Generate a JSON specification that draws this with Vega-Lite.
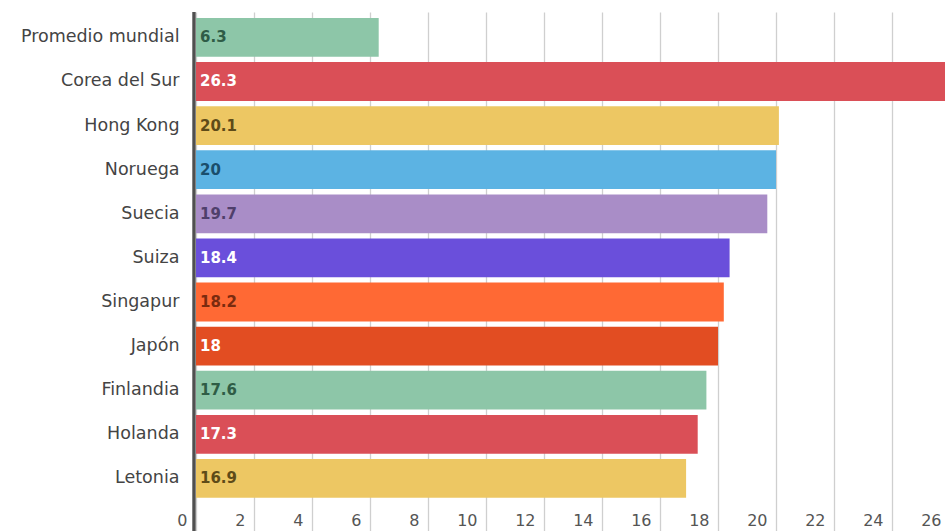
{
  "$schema": "https://vega.github.io/schema/vega-lite/v6.json",
  "autosize": {"type": "none"},
  "padding": {"left": 196, "top": 12, "right": 0, "bottom": 0},
  "width": 749,
  "height": 519,
  "background": "white",
  "data": {
    "values": [
      {"pais": "Promedio mundial", "valor": 6.3},
      {"pais": "Corea del Sur", "valor": 26.3},
      {"pais": "Hong Kong", "valor": 20.1},
      {"pais": "Noruega", "valor": 20},
      {"pais": "Suecia", "valor": 19.7},
      {"pais": "Suiza", "valor": 18.4},
      {"pais": "Singapur", "valor": 18.2},
      {"pais": "Japón", "valor": 18},
      {"pais": "Finlandia", "valor": 17.6},
      {"pais": "Holanda", "valor": 17.3},
      {"pais": "Letonia", "valor": 16.9}
    ]
  },
  "layer": [
    {
      "mark": {"type": "bar", "cornerRadius": 0},
      "encoding": {
        "y": {
          "field": "pais",
          "type": "nominal",
          "sort": null,
          "scale": {"paddingInner": 0.12, "paddingOuter": 0.444, "align": 0.153},
          "axis": {
            "title": null,
            "domain": false,
            "ticks": false,
            "grid": false,
            "labelPadding": 17,
            "labelFont": "DejaVu Sans",
            "labelFontSize": 17.5,
            "labelColor": "#444444"
          }
        },
        "x": {
          "field": "valor",
          "type": "quantitative",
          "scale": {"domain": [0, 28], "range": [0, 812], "nice": false, "zero": true},
          "axis": {
            "title": null,
            "values": [0, 2, 4, 6, 8, 10, 12, 14, 16, 18, 20, 22, 24, 26],
            "grid": true,
            "gridColor": "#cfcfcf",
            "gridWidth": 1.3,
            "domain": false,
            "ticks": false,
            "labelAlign": "right",
            "labelBaseline": "middle",
            "labelOffset": -9,
            "labelPadding": -11,
            "labelFont": "DejaVu Sans",
            "labelFontSize": 16,
            "labelColor": "#555555",
            "labelOverlap": false,
            "labelBound": false,
            "labelFlush": false
          }
        },
        "color": {
          "field": "pais",
          "type": "nominal",
          "legend": null,
          "scale": {
            "domain": ["Promedio mundial", "Corea del Sur", "Hong Kong", "Noruega", "Suecia", "Suiza", "Singapur", "Japón", "Finlandia", "Holanda", "Letonia"],
            "range": ["#8dc6a8", "#da4f57", "#edc763", "#5cb3e3", "#a98dc7", "#6a4fdb", "#ff6934", "#e24d22", "#8dc6a8", "#da4f57", "#edc763"]
          }
        }
      }
    },
    {
      "mark": {"type": "rule", "color": "#505050", "strokeWidth": 2.2, "xOffset": -2},
      "encoding": {
        "x": {"datum": 0, "type": "quantitative"}
      }
    },
    {
      "mark": {
        "type": "text",
        "align": "left",
        "baseline": "middle",
        "dx": 4,
        "font": "DejaVu Sans",
        "fontSize": 15,
        "fontWeight": "bold"
      },
      "encoding": {
        "y": {"field": "pais", "type": "nominal", "sort": null},
        "x": {"datum": 0, "type": "quantitative"},
        "text": {"field": "valor", "type": "quantitative"},
        "color": {
          "field": "pais",
          "type": "nominal",
          "legend": null,
          "scale": {
            "domain": ["Promedio mundial", "Corea del Sur", "Hong Kong", "Noruega", "Suecia", "Suiza", "Singapur", "Japón", "Finlandia", "Holanda", "Letonia"],
            "range": ["#2f5c46", "#ffffff", "#5e4b18", "#1a4e6c", "#4f3f6b", "#ffffff", "#7a2b0f", "#ffffff", "#2f5c46", "#ffffff", "#5e4b18"]
          }
        }
      }
    }
  ],
  "resolve": {"scale": {"color": "independent"}},
  "config": {
    "view": {"stroke": null}
  }
}
